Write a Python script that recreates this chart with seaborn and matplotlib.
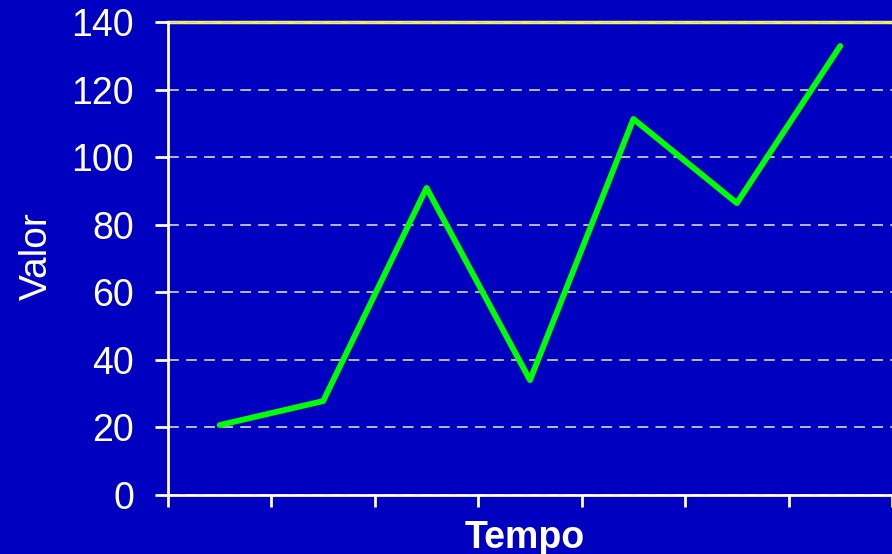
import matplotlib
matplotlib.use("Agg")
import matplotlib.pyplot as plt
import seaborn as sns
import pandas as pd
import numpy as np

periods = [1, 2, 3, 4, 5, 6, 7]
values = [20.7, 27.8, 90.9, 34.0, 111.3, 86.4, 132.9]
y_ticks = [0, 20, 40, 60, 80, 100, 120, 140]

bg = "#0000C0"
sns.set_theme(style="white")
plt.rcParams["font.family"] = ["Liberation Sans", "DejaVu Sans"]

fig = plt.figure(figsize=(8.92, 5.54), dpi=100, facecolor=bg)
ax = fig.add_axes([168 / 892, 1 - 495 / 554, 1 - 168 / 892, (495 - 22) / 554])
ax.set_facecolor(bg)

df = pd.DataFrame({"pos": np.arange(len(periods)), "valor": values})
sns.lineplot(data=df, x="pos", y="valor", ax=ax, color="#00FF00", linewidth=4.2)

ax.set_xlim(-0.5, len(periods) - 0.5)
ax.set_ylim(0, 140)
ax.set_yticks(y_ticks)
ax.set_xticks(np.arange(len(periods) + 1) - 0.5)
ax.set_xticklabels([])

ax.yaxis.grid(True, color="#C8C8C8", linestyle=(0, (6, 4)), linewidth=1.3)
ax.set_axisbelow(True)

for side in ["left", "bottom"]:
    ax.spines[side].set_color("white")
    ax.spines[side].set_linewidth(2)
ax.spines["right"].set_visible(False)
ax.spines["top"].set_color("#F4F060")
ax.spines["top"].set_linewidth(2.5)
ax.spines["top"].set_zorder(0.5)

ax.tick_params(axis="y", colors="white", labelsize=27, length=9.5, width=2,
               direction="out", left=True, pad=15)
ax.tick_params(axis="x", colors="white", length=8.6, width=2, direction="out", bottom=True)

ax.set_xlabel("Tempo", color="white", fontsize=27, fontweight="bold", va="baseline")
ax.xaxis.set_label_coords(0.493, -0.112)
ax.set_ylabel("Valor", color="white", fontsize=28)
ax.yaxis.set_label_coords(-0.157, 0.505)

fig.savefig("out.png", dpi=100, facecolor=bg)
